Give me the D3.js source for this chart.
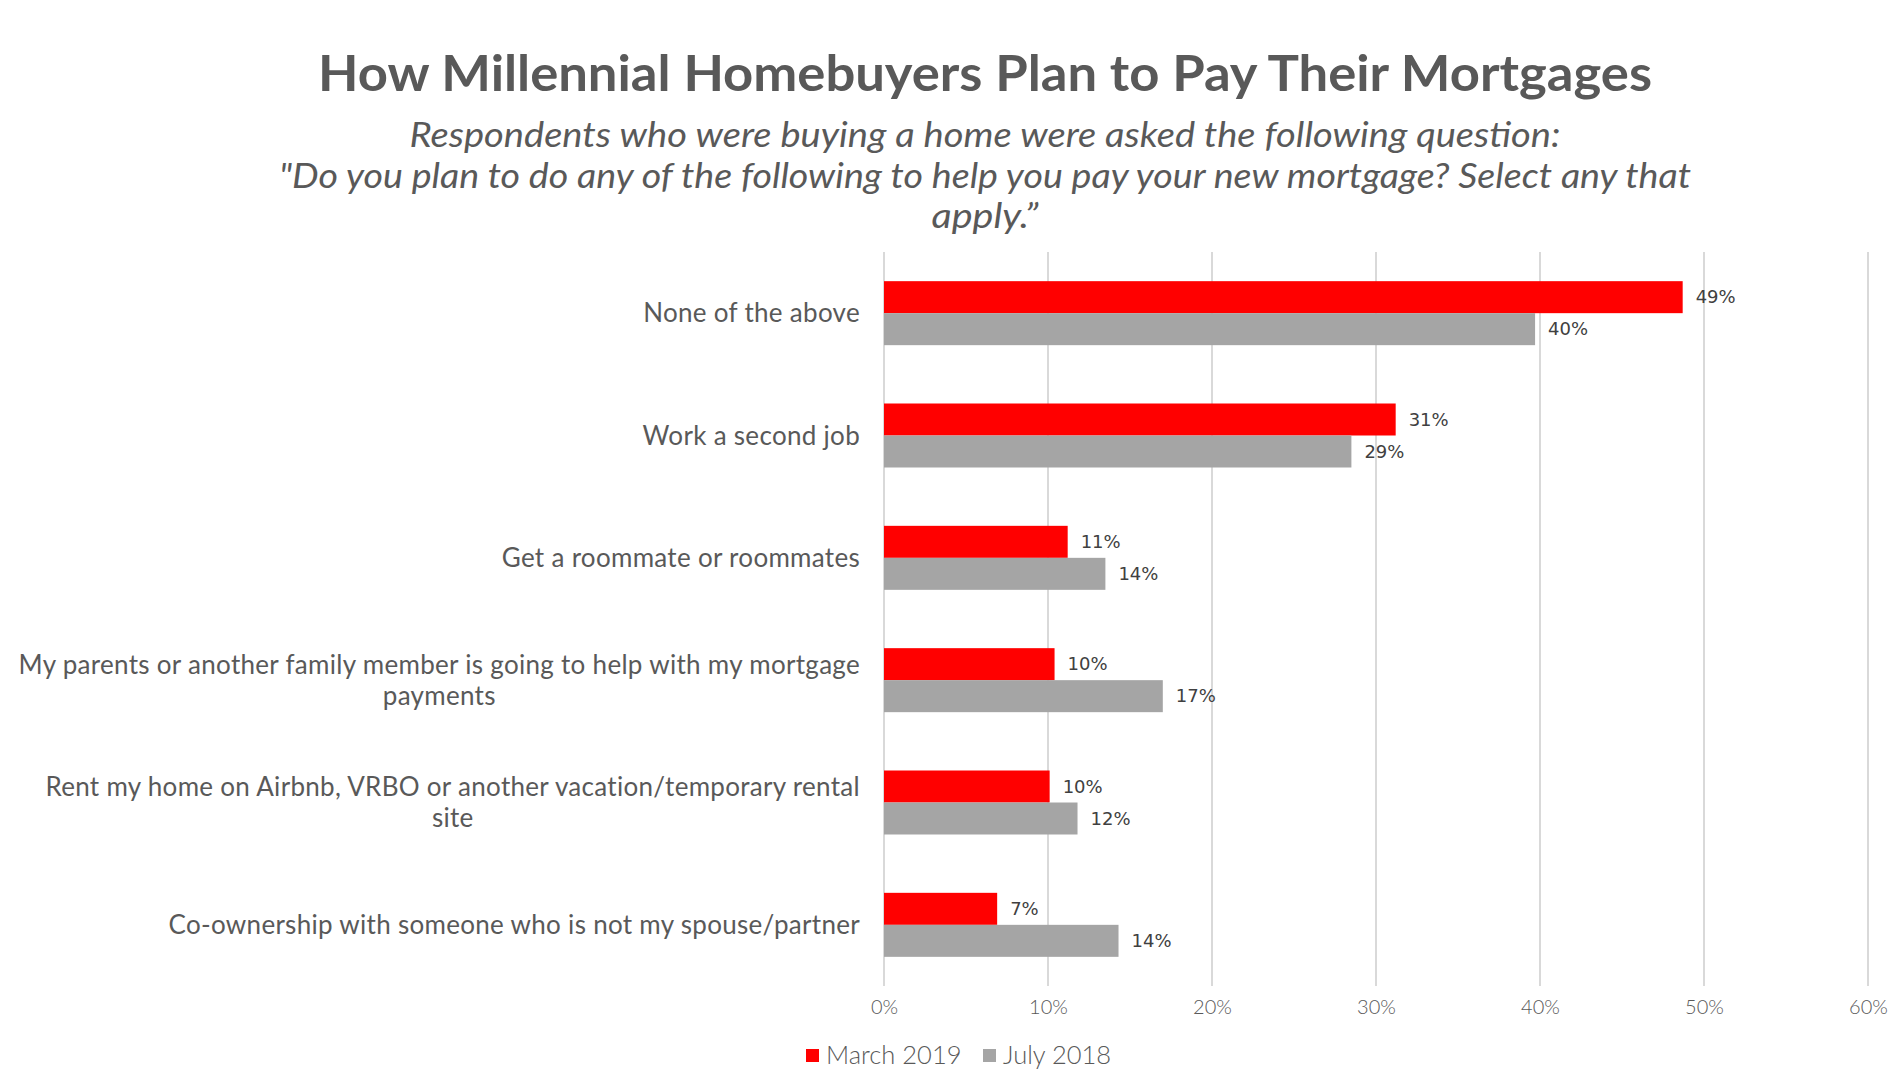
<!DOCTYPE html>
<html><head><meta charset="utf-8">
<script src="https://cdn.jsdelivr.net/npm/d3@7"></script>
<style>html,body{margin:0;padding:0;background:#fff;}</style>
</head><body>
<svg id="chart" width="1904" height="1083"></svg>
<script>
const categories = [
  "None of the above",
  "Work a second job",
  "Get a roommate or roommates",
  "My parents or another family member is going to help with my mortgage payments",
  "Rent my home on Airbnb, VRBO or another vacation/temporary rental site",
  "Co-ownership with someone who is not my spouse/partner"
];
const labelLines = [
  ["None of the above"],
  ["Work a second job"],
  ["Get a roommate or roommates"],
  ["My parents or another family member is going to help with my mortgage", "payments"],
  ["Rent my home on Airbnb, VRBO or another vacation/temporary rental", "site"],
  ["Co-ownership with someone who is not my spouse/partner"]
];
const seriesNames = ["March 2019", "July 2018"];
const march2019 = [48.7, 31.2, 11.2, 10.4, 10.1, 6.9];
const july2018 = [39.7, 28.5, 13.5, 17.0, 11.8, 14.3];
const tickValues = [0, 10, 20, 30, 40, 50, 60];
const colors = ["#FF0000", "#A5A5A5"];

(function () {
const svg = d3.select("#chart");
const pLeft = 884, pRight = 1868, pTop = 252, pBottom = 986;
const x = d3.scaleLinear().domain([0, 60]).range([pLeft, pRight]);
const y = d3.scaleBand().domain(categories).range([pTop, pBottom]);
const inner = d3.scaleBand().domain(seriesNames).range([0, 64]);
const bandOff = (y.bandwidth() - 64) / 2;

// title
svg.append("text").attr("x", 985).attr("y", 91).attr("text-anchor", "middle")
  .attr("font-family", "Lato").attr("font-weight", "bold").attr("font-size", 50)
  .attr("textLength", 1334).attr("lengthAdjust", "spacingAndGlyphs")
  .attr("fill", "#595959").text("How Millennial Homebuyers Plan to Pay Their Mortgages");
const subLines = [
  "Respondents who were buying a home were asked the following question:",
  "\"Do you plan to do any of the following to help you pay your new mortgage? Select any that",
  "apply.\u201D"
];
const subWidths = [1151, 1412, 107];
svg.selectAll("text.sub").data(subLines).join("text").attr("class", "sub")
  .attr("x", 985).attr("y", (d, i) => 147 + i * 40.5).attr("text-anchor", "middle")
  .attr("font-family", "Lato").attr("font-style", "italic").attr("font-size", 34)
  .attr("textLength", (d, i) => subWidths[i]).attr("lengthAdjust", "spacingAndGlyphs")
  .attr("fill", "#595959").text(d => d);

// grid
svg.append("g").selectAll("line").data(tickValues).join("line")
  .attr("x1", d => x(d)).attr("x2", d => x(d)).attr("y1", pTop).attr("y2", pBottom)
  .attr("stroke", "#D9D9D9").attr("stroke-width", 2);

// axis labels
const ax = svg.append("g").attr("transform", `translate(0,${pBottom})`)
  .call(d3.axisBottom(x).tickValues(tickValues).tickFormat(d => d + "%").tickSize(0).tickPadding(14));
ax.select(".domain").remove();
ax.selectAll("text").attr("font-family", "Lato").attr("font-weight", 300).attr("font-size", 20).attr("fill", "#595959");

// bars
const series = [march2019, july2018];
series.forEach((vals, s) => {
  const g = svg.append("g");
  g.selectAll("rect").data(vals).join("rect")
    .attr("x", x(0)).attr("y", (d, i) => y(categories[i]) + bandOff + inner(seriesNames[s]))
    .attr("width", d => x(d) - x(0)).attr("height", inner.bandwidth())
    .attr("fill", colors[s]);
  g.selectAll("text").data(vals).join("text")
    .attr("x", d => x(d) + 13).attr("y", (d, i) => y(categories[i]) + bandOff + inner(seriesNames[s]) + inner.bandwidth() / 2)
    .attr("dy", "0.35em").attr("font-family", "DejaVu Sans").attr("font-size", 18)
    .attr("fill", "#404040").text(d => Math.round(d) + "%");
});

// category labels
const labelRight = 860;
labelLines.forEach((lines, i) => {
  const cy = y(categories[i]) + y.bandwidth() / 2;
  const g = svg.append("g");
  const texts = g.selectAll("text").data(lines).join("text")
    .attr("y", (d, j) => cy + (j - (lines.length - 1) / 2) * 31)
    .attr("dy", "0.35em").attr("font-family", "Lato").attr("font-size", 26)
    .attr("letter-spacing", 0.3)
    .attr("fill", "#595959").text(d => d);
  let maxW = 0;
  texts.each(function() { maxW = Math.max(maxW, this.getComputedTextLength()); });
  texts.attr("text-anchor", "middle").attr("x", labelRight - maxW / 2);
});

// legend
const legendItems = [{name: seriesNames[0], c: colors[0], x: 806}, {name: seriesNames[1], c: colors[1], x: 983}];
const lg = svg.append("g");
legendItems.forEach(it => {
  lg.append("rect").attr("x", it.x).attr("y", 1049).attr("width", 13).attr("height", 13).attr("fill", it.c);
  lg.append("text").attr("x", it.x + 20).attr("y", 1055).attr("dy", "0.35em")
    .attr("font-family", "Lato").attr("font-weight", 300).attr("font-size", 25.5).attr("fill", "#595959").text(it.name);
});
})();
</script>
</body></html>
